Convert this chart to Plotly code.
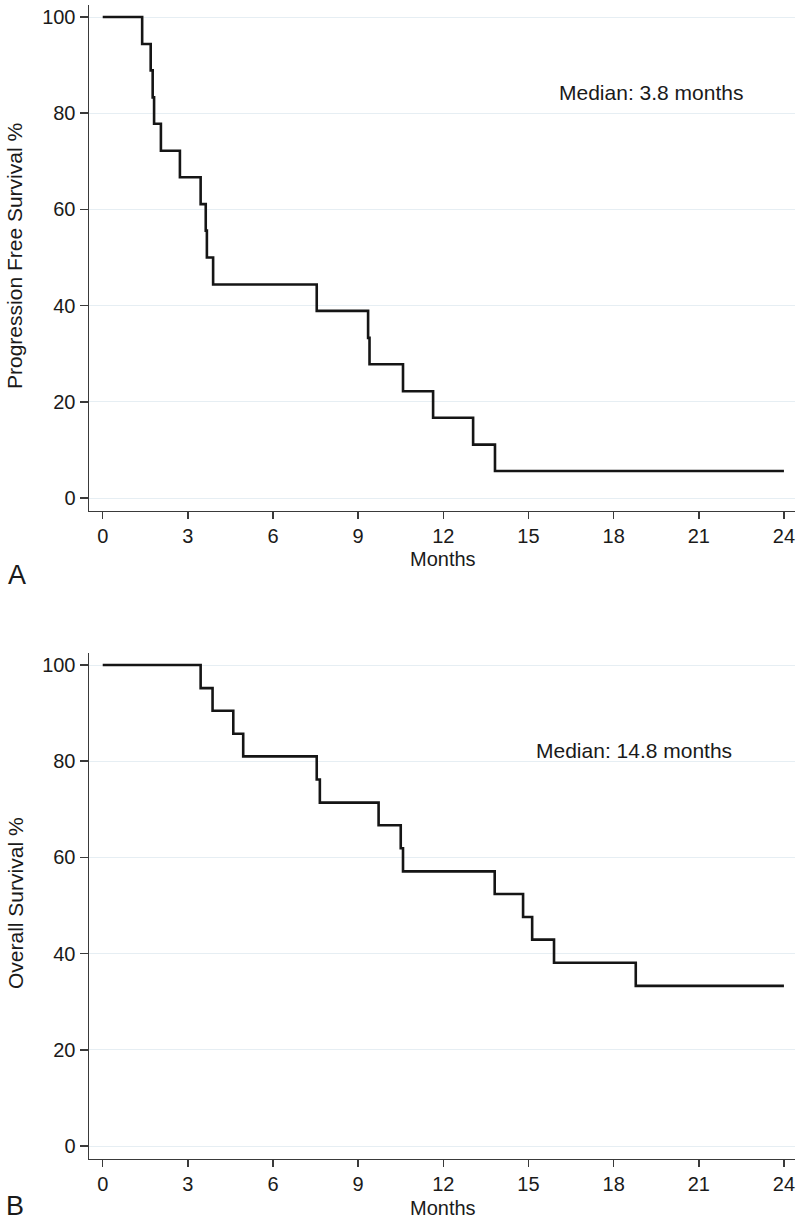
import plotly.graph_objects as go

# ---- Data ----
pfs_months = [0, 1.39, 1.69, 1.76, 1.81, 2.05, 2.72, 3.45, 3.63, 3.67, 3.89,
              7.54, 9.35, 9.40, 10.58, 11.64, 13.05, 13.82, 24]
pfs_survival = [100, 94.4, 88.9, 83.3, 77.8, 72.2, 66.7, 61.1, 55.6, 50.0, 44.4,
                38.9, 33.3, 27.8, 22.2, 16.7, 11.1, 5.6, 5.6]

os_months = [0, 3.45, 3.87, 4.60, 4.95, 7.54, 7.65, 9.72, 10.50, 10.58,
             13.81, 14.81, 15.13, 15.90, 18.78, 24]
os_survival = [100, 95.2, 90.5, 85.7, 81.0, 76.2, 71.4, 66.7, 61.9, 57.1,
               52.4, 47.6, 42.9, 38.1, 33.3, 33.3]

x_ticks = [0, 3, 6, 9, 12, 15, 18, 21, 24]
y_ticks = [0, 20, 40, 60, 80, 100]

pfs_median_label = "Median: 3.8 months"
os_median_label = "Median: 14.8 months"
pfs_ylabel = "Progression Free Survival %"
os_ylabel = "Overall Survival %"
x_label = "Months"

W, H = 800, 1226
FONT = "Liberation Sans, Arial, Helvetica, sans-serif"
AXIS_COLOR = "#3a3a3a"
GRID_COLOR = "#e6eef3"
LINE_COLOR = "#151515"

fig = go.Figure()
fig.add_trace(go.Scatter(x=pfs_months, y=pfs_survival, mode="lines",
                         line=dict(shape="hv", color=LINE_COLOR, width=2.6),
                         xaxis="x", yaxis="y", showlegend=False, hoverinfo="skip"))
fig.add_trace(go.Scatter(x=os_months, y=os_survival, mode="lines",
                         line=dict(shape="hv", color=LINE_COLOR, width=2.6),
                         xaxis="x2", yaxis="y2", showlegend=False, hoverinfo="skip"))

def py(p):
    return 1 - p / H

x_dom = [89 / W, 795 / W]
top_dom = [py(510.7), py(5)]
bot_dom = [py(1158.7), py(653)]
x_rng = [-0.483, 24.39]
y_rng = [-2.64, 102.5]

xcommon = dict(range=x_rng, tickmode="array", tickvals=x_ticks,
               showline=True, linecolor=AXIS_COLOR, linewidth=1.5,
               ticks="outside", ticklen=7, tickwidth=1.5, tickcolor=AXIS_COLOR,
               showgrid=False, zeroline=False,
               tickfont=dict(family=FONT, size=20, color="#1a1a1a"),
               domain=x_dom, fixedrange=True)
ycommon = dict(range=y_rng, tickmode="array", tickvals=y_ticks,
               showline=True, linecolor=AXIS_COLOR, linewidth=1.5,
               ticks="outside", ticklen=8, tickwidth=1.5, tickcolor=AXIS_COLOR,
               showgrid=True, gridcolor=GRID_COLOR, gridwidth=1, zeroline=False,
               tickfont=dict(family=FONT, size=20, color="#1a1a1a"),
               fixedrange=True)

fig.update_layout(
    width=W, height=H,
    margin=dict(l=0, r=0, t=0, b=0),
    paper_bgcolor="white", plot_bgcolor="white",
    xaxis=dict(**xcommon, anchor="y"),
    yaxis=dict(**ycommon, domain=top_dom, anchor="x"),
    xaxis2=dict(**xcommon, anchor="y2"),
    yaxis2=dict(**ycommon, domain=bot_dom, anchor="x2"),
    font=dict(family=FONT, color="#1a1a1a"),
)

ann = []
# y titles
ann.append(dict(text=pfs_ylabel, xref="paper", yref="paper", x=15 / W, y=py(256),
                textangle=-90, showarrow=False, font=dict(size=21, family=FONT),
                xanchor="center", yanchor="middle"))
ann.append(dict(text=os_ylabel, xref="paper", yref="paper", x=15 / W, y=py(903),
                textangle=-90, showarrow=False, font=dict(size=21, family=FONT),
                xanchor="center", yanchor="middle"))
# x titles
ann.append(dict(text=x_label, xref="x", yref="paper", x=12, y=py(559),
                showarrow=False, font=dict(size=20, family=FONT),
                xanchor="center", yanchor="middle"))
ann.append(dict(text=x_label, xref="x2", yref="paper", x=12, y=py(1208),
                showarrow=False, font=dict(size=20, family=FONT),
                xanchor="center", yanchor="middle"))
# panel letters
ann.append(dict(text="A", xref="paper", yref="paper", x=17 / W, y=py(575),
                showarrow=False, font=dict(size=27, family=FONT),
                xanchor="center", yanchor="middle"))
ann.append(dict(text="B", xref="paper", yref="paper", x=15 / W, y=py(1206),
                showarrow=False, font=dict(size=27, family=FONT),
                xanchor="center", yanchor="middle"))
# medians
ann.append(dict(text=pfs_median_label, xref="x", yref="y", x=16.0, y=84.4,
                showarrow=False, font=dict(size=21, family=FONT),
                xanchor="left", yanchor="middle"))
ann.append(dict(text=os_median_label, xref="x2", yref="y2", x=15.2, y=82.3,
                showarrow=False, font=dict(size=21, family=FONT),
                xanchor="left", yanchor="middle"))
fig.update_layout(annotations=ann)

fig.write_html(
    "out.html",
    config={"displayModeBar": False, "staticPlot": True},
    post_script="document.body.style.margin='0';document.body.style.overflow='hidden';",
)
